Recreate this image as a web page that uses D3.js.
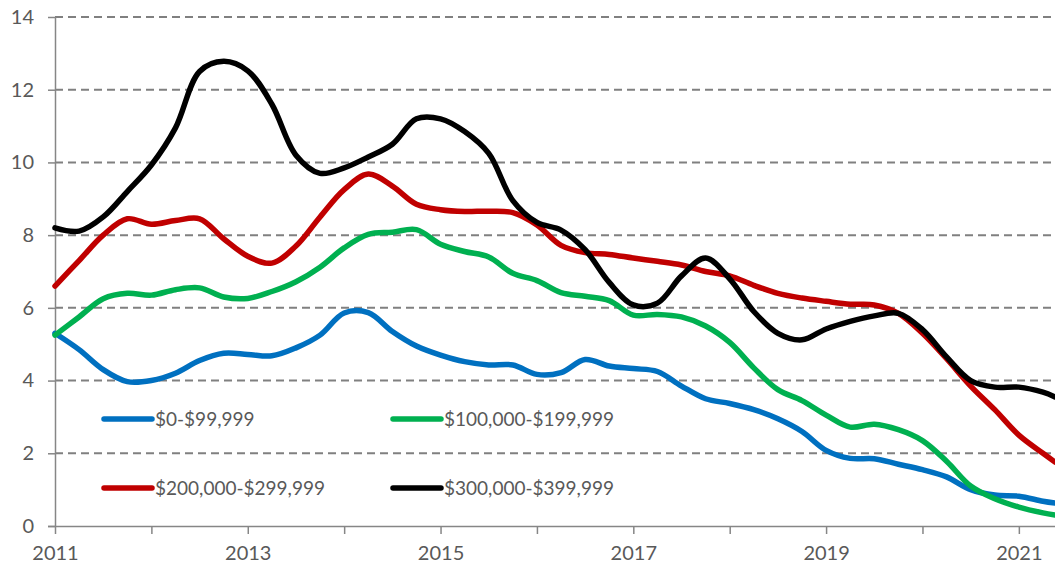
<!DOCTYPE html>
<html>
  <head>
    <title>Price bands over time</title>
    <script src="https://d3js.org/d3.v7.min.js"></script>
    <style>
      body { margin: 0; background: #fff; }
      text { font-family: Lato, "Open Sans", sans-serif; fill: #595959; }
    </style>
  </head>
  <body>
    <svg width="1055" height="569"></svg>
    <script>
    // quarters, decimal years
    var dates = [2011, 2011.25, 2011.5, 2011.75, 2012, 2012.25, 2012.5, 2012.75,
      2013, 2013.25, 2013.5, 2013.75, 2014, 2014.25, 2014.5, 2014.75,
      2015, 2015.25, 2015.5, 2015.75, 2016, 2016.25, 2016.5, 2016.75,
      2017, 2017.25, 2017.5, 2017.75, 2018, 2018.25, 2018.5, 2018.75,
      2019, 2019.25, 2019.5, 2019.75, 2020, 2020.25, 2020.5, 2020.75,
      2021, 2021.25, 2021.375];

    var band0 = [5.3, 4.85, 4.3, 3.97, 4.0, 4.2, 4.55, 4.75, 4.72, 4.68, 4.9, 5.25,
      5.86, 5.87, 5.35, 4.95, 4.7, 4.52, 4.43, 4.43, 4.17, 4.22, 4.58, 4.4,
      4.33, 4.25, 3.85, 3.5, 3.37, 3.2, 2.95, 2.6, 2.08, 1.86, 1.85, 1.7,
      1.55, 1.35, 1.0, 0.85, 0.82, 0.68, 0.63];
    var band1 = [5.25, 5.75, 6.25, 6.4, 6.35, 6.5, 6.55, 6.3, 6.26, 6.45, 6.72, 7.12,
      7.65, 8.02, 8.08, 8.15, 7.75, 7.55, 7.4, 6.95, 6.75, 6.42, 6.32, 6.2,
      5.8, 5.82, 5.75, 5.5, 5.05, 4.35, 3.75, 3.45, 3.05, 2.72, 2.8, 2.65,
      2.35, 1.78, 1.1, 0.75, 0.52, 0.36, 0.3];
    var band2 = [6.6, 7.3, 8.0, 8.45, 8.3, 8.4, 8.45, 7.9, 7.42, 7.23, 7.7, 8.5,
      9.25, 9.68, 9.35, 8.85, 8.7, 8.65, 8.66, 8.62, 8.28, 7.72, 7.52, 7.47,
      7.37, 7.28, 7.18, 7.0, 6.88, 6.62, 6.4, 6.27, 6.18, 6.1, 6.08, 5.85,
      5.3, 4.6, 3.85, 3.2, 2.5, 2.0, 1.76];
    var band3 = [8.2, 8.11, 8.5, 9.2, 9.93, 10.95, 12.5, 12.78, 12.52, 11.6, 10.2, 9.7,
      9.85, 10.15, 10.5, 11.2, 11.2, 10.85, 10.25, 8.95, 8.35, 8.14, 7.6, 6.7,
      6.08, 6.13, 6.88, 7.37, 6.8, 5.9, 5.3, 5.12, 5.42, 5.63, 5.78, 5.85,
      5.4, 4.65, 4.0, 3.82, 3.82, 3.68, 3.55];

    var seriesNames = ["$0-$99,999", "$100,000-$199,999", "$200,000-$299,999", "$300,000-$399,999"];
    var seriesColors = ["#0070C0", "#00B050", "#C00000", "#000000"];
    var seriesValues = [band0, band1, band2, band3];

    var yTicks = [0, 2, 4, 6, 8, 10, 12, 14];
    var yearTicks = [2011, 2012, 2013, 2014, 2015, 2016, 2017, 2018, 2019, 2020, 2021];
    var yearLabels = [2011, 2013, 2015, 2017, 2019, 2021];

    var svg = d3.select("svg");
    var x = d3.scaleLinear().domain([2011, 2021.375]).range([55, 1055]);
    var y = d3.scaleLinear().domain([0, 14]).range([526, 17]);

    // dashed gridlines
    svg.append("g")
      .selectAll("line")
      .data(yTicks.slice(1))
      .enter().append("line")
        .attr("x1", 55).attr("x2", 1055)
        .attr("y1", function(d) { return y(d); })
        .attr("y2", function(d) { return y(d); })
        .attr("stroke", "#808080")
        .attr("stroke-width", 2)
        .attr("stroke-dasharray", "8,5");

    // y axis
    var yAxis = svg.append("g")
      .attr("transform", "translate(55,0)")
      .call(d3.axisLeft(y).tickValues(yTicks).tickSize(7).tickPadding(14));
    yAxis.selectAll("line, path").attr("stroke", "#868686").attr("stroke-width", 1.5);
    yAxis.select(".domain").attr("d", "M0.5," + y(14) + "V" + y(0));
    yAxis.selectAll("text").style("font-size", "20px").attr("fill", "#595959")
      .style("font-family", "Lato, 'Open Sans', sans-serif");

    // x axis
    var xAxis = svg.append("g")
      .attr("transform", "translate(0,526)")
      .call(d3.axisBottom(x).tickValues(yearTicks).tickSize(8).tickPadding(12)
        .tickFormat(function(d) { return yearLabels.indexOf(d) >= 0 ? d : ""; }));
    xAxis.selectAll("line, path").attr("stroke", "#868686").attr("stroke-width", 1.5);
    xAxis.select(".domain").attr("d", "M48,0.5H1055");
    xAxis.selectAll("text").style("font-size", "20px").attr("fill", "#595959")
      .style("font-family", "Lato, 'Open Sans', sans-serif");

    var line = d3.line()
      .x(function(d, i) { return x(dates[i]); })
      .y(function(d) { return y(d); })
      .curve(d3.curveCatmullRom.alpha(0.5));

    svg.append("g")
      .selectAll("path")
      .data(seriesValues)
      .enter().append("path")
        .attr("d", line)
        .attr("fill", "none")
        .attr("stroke", function(d, i) { return seriesColors[i]; })
        .attr("stroke-width", 5.5)
        .attr("stroke-linejoin", "round")
        .attr("stroke-linecap", "round");

    // legend, 2 x 2
    var legend = svg.append("g")
      .selectAll("g")
      .data(seriesNames)
      .enter().append("g")
        .attr("transform", function(d, i) {
          return "translate(" + (i % 2 ? 393 : 104) + "," + (i < 2 ? 419 : 488) + ")";
        });
    legend.append("line")
      .attr("x1", 0).attr("x2", 48)
      .attr("stroke", function(d, i) { return seriesColors[i]; })
      .attr("stroke-width", 5.5)
      .attr("stroke-linecap", "round");
    legend.append("text")
      .attr("x", 51)
      .attr("dy", "0.35em")
      .style("font-size", "19px")
      .text(function(d) { return d; });
    </script>
  </body>
</html>
